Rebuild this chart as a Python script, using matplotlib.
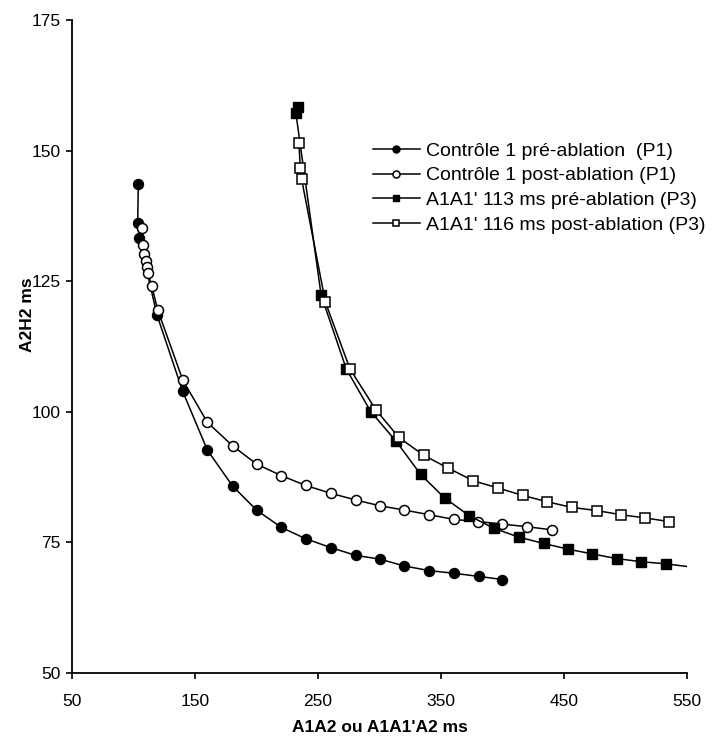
import matplotlib
matplotlib.use("Agg")
import matplotlib.pyplot as plt

plt.rcParams['font.family'] = ['Liberation Sans', 'DejaVu Sans']

# --- Data ---
ctrl_pre_x = [103.9, 103.4, 104.7, 119.0, 140.0, 160.0, 180.5, 200.0, 220.0, 240.0,
              260.5, 281.0, 300.5, 320.0, 340.5, 360.5, 380.5, 400.0]
ctrl_pre_y = [143.6, 136.1, 133.3, 118.6, 103.9, 92.7, 85.8, 81.2, 77.9, 75.7,
              74.0, 72.5, 71.8, 70.5, 69.6, 69.1, 68.5, 67.9]

ctrl_post_x = [107.2, 108.0, 108.8, 109.9, 110.7, 111.5, 114.8, 119.7, 140.0, 160.0,
               180.5, 200.0, 220.0, 240.0, 260.5, 281.0, 300.5, 320.0, 340.5, 360.5,
               380.0, 400.0, 420.0, 440.5]
ctrl_post_y = [135.1, 131.9, 130.3, 128.9, 127.8, 126.6, 124.1, 119.5, 106.1, 98.0,
               93.5, 90.0, 87.8, 85.9, 84.4, 83.1, 82.0, 81.2, 80.3, 79.4,
               79.0, 78.5, 78.0, 77.4]

p3_pre_x = [234.0, 232.0, 252.5, 273.0, 293.0, 313.4, 333.5, 353.0, 373.0, 393.0,
            413.4, 433.5, 453.5, 473.0, 493.0, 513.0, 533.0, 553.0]
p3_pre_y = [158.3, 157.2, 122.4, 108.2, 100.0, 94.4, 88.0, 83.5, 80.1, 77.7,
            76.0, 74.8, 73.7, 72.8, 71.9, 71.3, 70.9, 70.3]

p3_post_x = [234.5, 235.6, 236.7, 256.0, 276.0, 297.0, 315.7, 335.8, 356.0, 376.3,
             396.6, 416.4, 436.0, 456.3, 476.6, 496.3, 515.5, 535.1]
p3_post_y = [151.5, 146.7, 144.5, 121.0, 108.2, 100.4, 95.1, 91.7, 89.2, 86.8,
             85.4, 84.0, 82.8, 81.7, 81.1, 80.3, 79.7, 79.0]

labels = ["Contrôle 1 pré-ablation  (P1)",
          "Contrôle 1 post-ablation (P1)",
          "A1A1' 113 ms pré-ablation (P3)",
          "A1A1' 116 ms post-ablation (P3)"]

x_ticks = [50, 150, 250, 350, 450, 550]
y_ticks = [50, 75, 100, 125, 150, 175]

# --- Figure ---
fig = plt.figure(figsize=(7.13, 7.37), dpi=100)
ax = fig.add_axes([0.101, 0.0868, 0.8625, 0.8861])

lw = 1.1
ax.plot(ctrl_pre_x, ctrl_pre_y, '-o', color='black', lw=lw, ms=7.2,
        mfc='black', mec='black', mew=1.0, label=labels[0])
ax.plot(ctrl_post_x, ctrl_post_y, '-o', color='black', lw=lw, ms=7.2,
        mfc='white', mec='black', mew=1.1, label=labels[1])
ax.plot(p3_pre_x, p3_pre_y, '-s', color='black', lw=lw, ms=7.0,
        mfc='black', mec='black', mew=1.0, markevery=slice(0, -1), label=labels[2])
ax.plot(p3_post_x, p3_post_y, '-s', color='black', lw=lw, ms=7.0,
        mfc='white', mec='black', mew=1.1, label=labels[3])

ax.set_xlim(50, 550)
ax.set_ylim(50, 175)
ax.set_xticks(x_ticks)
ax.set_yticks(y_ticks)
ax.tick_params(axis='both', direction='out', length=4, width=1.2, labelsize=12.5, colors='black')
ax.tick_params(axis='x', pad=11)
ax.tick_params(axis='y', pad=4)

for side in ['top', 'right']:
    ax.spines[side].set_visible(False)
for side in ['left', 'bottom']:
    ax.spines[side].set_linewidth(1.3)

ax.set_xlabel("A1A2 ou A1A1'A2 ms", fontsize=12.5, fontweight='bold')
ax.set_ylabel("A2H2 ms", fontsize=12.5, fontweight='bold')
ax.xaxis.set_label_coords(0.5, -0.072)
ax.yaxis.set_label_coords(-0.06, 0.548)

leg = ax.legend(loc='upper left', bbox_to_anchor=(373 / 713, 1 - 142 / 737),
                bbox_transform=fig.transFigure, frameon=False, fontsize=14,
                borderpad=0, borderaxespad=0, handlelength=2.4, handletextpad=0.3,
                labelspacing=0.37, markerscale=0.7)

fig.savefig("out.png", dpi=100, facecolor='white')
